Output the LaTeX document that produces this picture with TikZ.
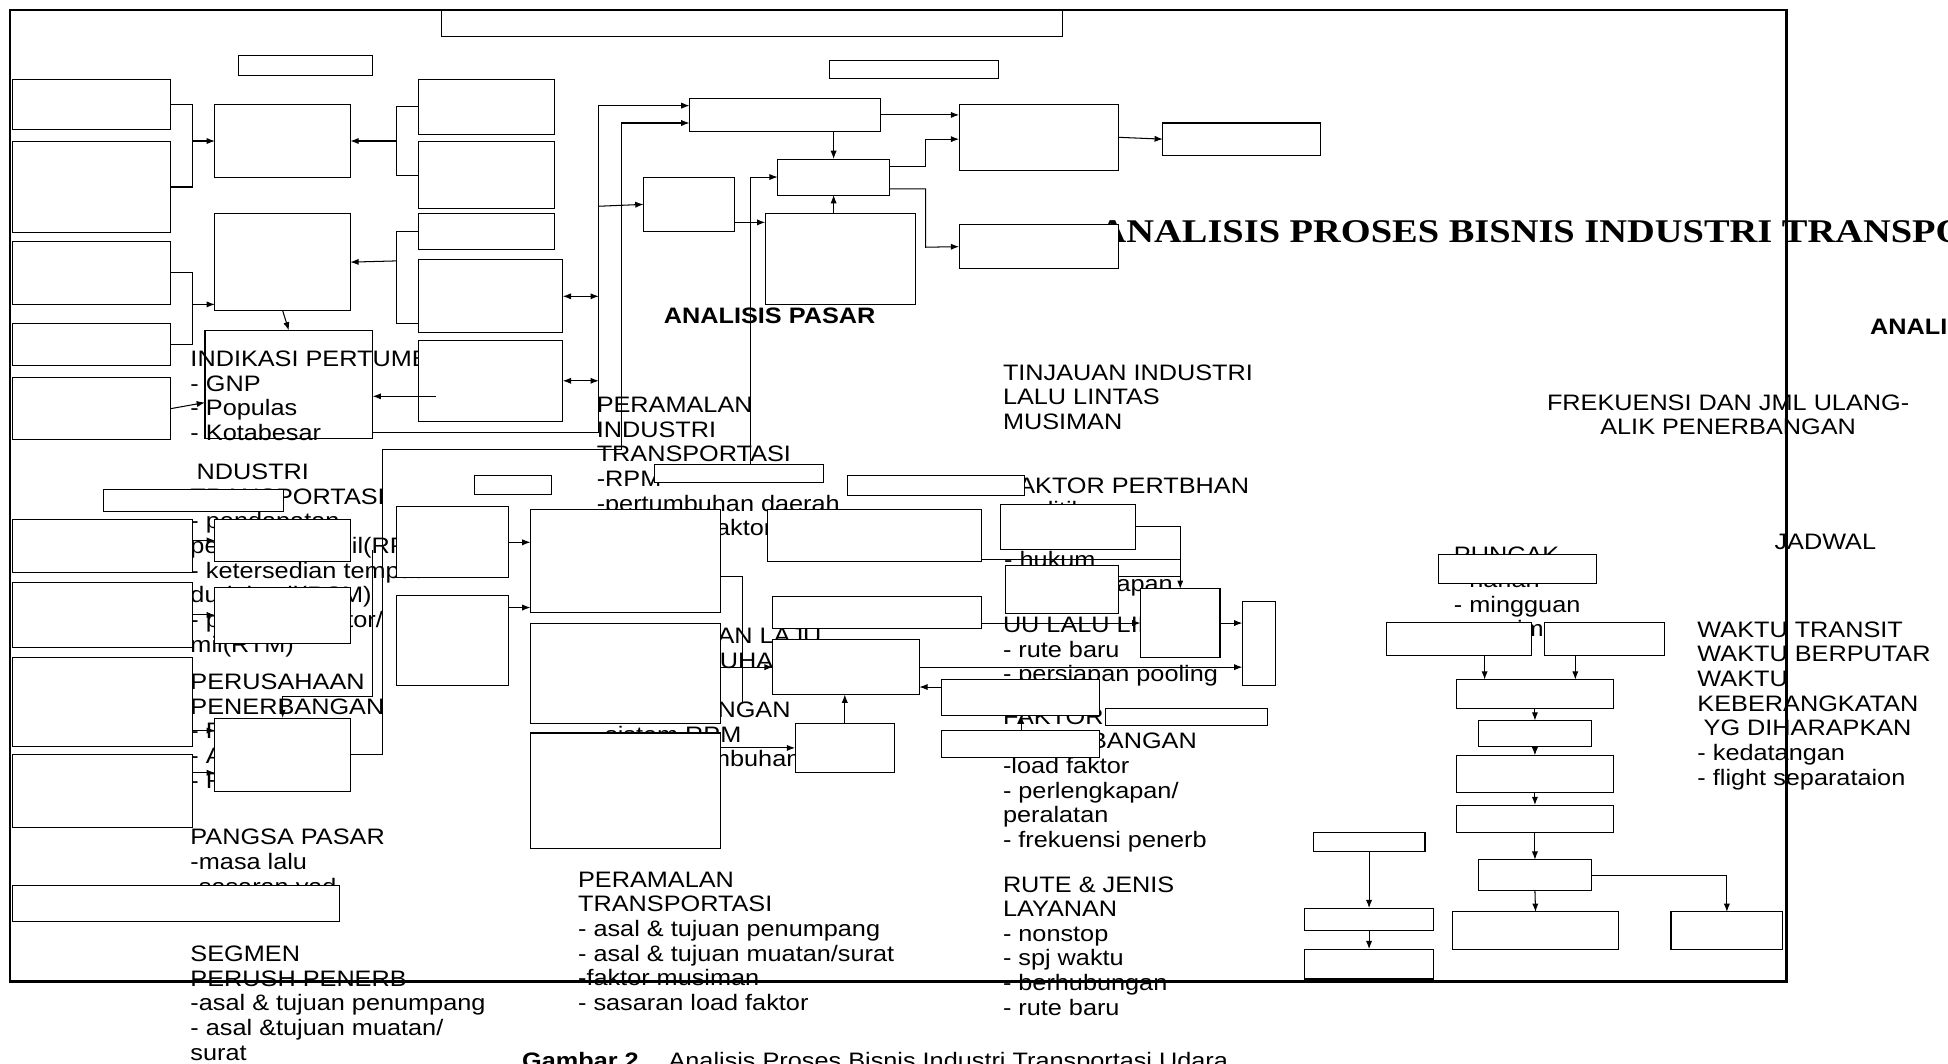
\documentclass[tikz,border=0pt]{standalone}
\usepackage{fontspec}
\setmainfont[FakeStretch=1.13]{Liberation Sans}
\newfontfamily\titlefont[FakeStretch=1.16]{Liberation Serif}
\usepackage{tikz}
\usetikzlibrary{
    arrows.meta,
    calc
}
\tikzset{
    box/.style={draw, line width=0.5pt, fill=white, inner sep=0pt, outer sep=0pt, anchor=north west},
    lbl/.style={anchor=base west, inner sep=0pt, align=left, font=\fontsize{10.8}{11.9}\selectfont},
    con/.style={line width=0.5pt},
    arr/.style={con, -{Latex[length=4pt,width=3pt]}},
    darr/.style={con, {Latex[length=4pt,width=3pt]}-{Latex[length=4pt,width=3pt]}}
}
% box from its top left to its bottom right corner
\newcommand{\bx}[5]{\node[box, minimum width={(#4-#2)*0.6pt}, minimum height={(#5-#3)*0.6pt}] (#1) at (#2,#3) {};}

\begin{document}
\begin{tikzpicture}[x=0.6pt, y=-0.6pt]
        \useasboundingbox (0,0) rectangle (1568,856);
        \clip (0,0) rectangle (1568,856);

        \node[box, fill=none, minimum width={135*0.6pt}, minimum height={87*0.6pt}] (ind) at (165,266) {};

        % texts (placed at the baseline of their last line)
        \node[lbl] (tind) at (153,354.5) {INDIKASI PERTUMBUHAN\\- GNP\\- Populas\\- Kotabesar};
        \node[lbl] (tindu) at (153,524.8) {\hspace*{3pt}NDUSTRI\\TRANSPORTASI\\- pendapatan\\penumpang mil(RPM)\\- ketersedian tempat\\duduk mil(RSM)\\- pendapatan tor/\\mil(RTM)};
        \node[lbl] (tpers) at (153,634.3) {PERUSAHAAN\\PENERBANGAN\\- Rute\\- Armada\\- Frekuensi};
        \node[lbl] (tpangsa) at (153,719.7) {PANGSA PASAR\\-masa lalu\\-sasaran yad};
        \node[lbl] (tsegmen) at (153,853.3) {SEGMEN\\PERUSH PENERB\\-asal \& tujuan penumpang\\- asal \&tujuan muatan/\\surat};
        \node[lbl] (tramind) at (480,431.2) {PERAMALAN\\INDUSTRI\\TRANSPORTASI\\-RPM\\-pertumbuhan daerah\\- sasaran faktor};
        \node[lbl] (tlaju) at (480,617.2) {PERAMALAN LAJU\\PERTUMBUHAN\\\mbox{}\\PENERBANGAN\\-sistem RPM\\-laju pertumbuhan};
        \node[lbl] (tramtr) at (465,813.2) {PERAMALAN\\TRANSPORTASI\\- asal \& tujuan penumpang\\- asal \& tujuan muatan/surat\\-faktor musiman\\- sasaran load faktor};
        \node[lbl] (ttinj) at (807,345.7) {TINJAUAN INDUSTRI\\LALU LINTAS\\MUSIMAN};
        \node[lbl] (tpert) at (808,476.3) {FAKTOR PERTBHAN\\- politik\\- ekonomi\\- hukum\\- perlengkapan};
        \node[lbl] (tuu) at (807,548.7) {UU LALU LINTAS\\- rute baru\\- persiapan pooling};
        \node[lbl] (tfpen) at (807,682.2) {FAKTOR\\PENERBANGAN\\-load faktor\\- perlengkapan/\\peralatan\\- frekuensi penerb};
        \node[lbl] (trute) at (807,817.2) {RUTE \& JENIS\\LAYANAN\\- nonstop\\- spj waktu\\- berhubungan\\- rute baru};
        \node[lbl] (tpuncak) at (1170,512.5) {PUNCAK\\- harian\\- mingguan\\- musiman};
        \node[lbl] (twaktu) at (1366,632) {WAKTU TRANSIT\\WAKTU BERPUTAR\\WAKTU\\KEBERANGKATAN\\\hspace*{3pt}YG DIHARAPKAN\\- kedatangan\\- flight separataion};
        \node[lbl, anchor=base, align=center] (tfrek) at (1391,350) {FREKUENSI DAN JML ULANG-\\ALIK PENERBANGAN};
        \node[lbl] (tjadwal) at (1428,442) {JADWAL};
        \node[lbl, font=\fontsize{10.8}{11.9}\selectfont\bfseries] (tpasar) at (534,260) {ANALISIS PASAR};
        \node[lbl, font=\fontsize{10.8}{11.9}\selectfont\bfseries] (tanali) at (1505,269) {ANALISIS};
        \node[lbl, font=\titlefont\bfseries\fontsize{16}{18}\selectfont] (ttitle) at (884,195) {ANALISIS PROSES BISNIS INDUSTRI TRANSPORTASI UDARA};
        \node[lbl] (tcaption) at (420,860) {\textbf{Gambar 2.}\hspace{11pt}Analisis Proses Bisnis Industri Transportasi Udara};

        % boxes
        \bx{titlebox}{355}{8}{855}{29}
        \bx{hdra}{192}{45}{300}{61}
        \bx{hdrb}{668}{49}{804}{63}
        \bx{l1}{10}{64}{137}{104}
        \bx{l2}{10}{114}{137}{187}
        \bx{l3}{10}{194}{137}{245}
        \bx{l4}{10}{260}{137}{294}
        \bx{l5}{10}{304}{137}{354}
        \bx{b1}{173}{84}{282}{143}
        \bx{b2}{173}{172}{282}{250}
        \bx{r1}{337}{64}{446}{108}
        \bx{r2}{337}{114}{446}{168}
        \bx{r3}{337}{172}{446}{201}
        \bx{r4}{337}{209}{453}{268}
        \bx{r5}{337}{274}{453}{339}
        \bx{c1}{555}{79}{709}{106}
        \bx{c2}{626}{128}{716}{157}
        \bx{c3}{518}{143}{591}{186}
        \bx{c4}{616}{172}{737}{245}
        \bx{c5}{772}{84}{900}{137}
        \bx{c6}{936}{99}{1063}{125}
        \bx{c7}{772}{181}{900}{216}
        \bx{sind}{83}{394}{228}{412}
        \bx{ll1}{10}{418}{155}{461}
        \bx{ll2}{10}{469}{155}{521}
        \bx{ll3}{10}{529}{155}{601}
        \bx{ll4}{10}{607}{155}{666}
        \bx{ma}{173}{418}{282}{452}
        \bx{mb}{173}{473}{282}{518}
        \bx{pb}{173}{578}{282}{637}
        \bx{bb}{10}{713}{273}{742}
        \bx{s2}{382}{383}{444}{398}
        \bx{m1}{319}{408}{409}{465}
        \bx{m2}{319}{479}{409}{552}
        \bx{s3}{527}{374}{663}{388}
        \bx{s4}{682}{383}{825}{399}
        \bx{biga}{427}{410}{580}{493}
        \bx{bigb}{427}{502}{580}{582}
        \bx{bigc}{427}{590}{580}{683}
        \bx{s6}{618}{410}{790}{452}
        \bx{s7}{622}{480}{790}{506}
        \bx{s8}{622}{515}{740}{559}
        \bx{s9}{640}{582}{720}{622}
        \bx{s10}{758}{547}{885}{576}
        \bx{s11}{758}{588}{885}{610}
        \bx{s12}{890}{570}{1020}{584}
        \bx{s13}{805}{406}{914}{442}
        \bx{s14}{809}{455}{900}{494}
        \bx{tc}{918}{474}{982}{529}
        \bx{tb}{1000}{484}{1027}{552}
        \bx{s15}{1158}{446}{1285}{470}
        \bx{s16}{1116}{501}{1233}{528}
        \bx{s17}{1243}{501}{1340}{528}
        \bx{f1}{1172}{547}{1299}{570}
        \bx{f2}{1190}{580}{1281}{601}
        \bx{f3}{1172}{608}{1299}{638}
        \bx{f4}{1172}{648}{1299}{670}
        \bx{f5}{1190}{692}{1281}{717}
        \bx{f6}{1169}{734}{1303}{764}
        \bx{f7}{1345}{734}{1435}{764}
        \bx{g1}{1057}{670}{1147}{685}
        \bx{g2}{1050}{731}{1154}{749}
        \bx{g3}{1050}{764}{1154}{788}

        % connectors, upper left
        \draw[con] (l1.east) -- ++(18,0) |- (l2.east);
        \draw[arr] (b1.west) ++(-18,0) -- (b1.west);
        \draw[con] (l3.east) -- ++(18,0) |- (l4.east);
        \draw[arr] (155,245) -- (b2.west |- 0,245);
        \draw[arr] (l5.east) -- (ind.west |- 0,324);
        \draw[con] (r1.west) -- ++(-18,0) |- (r2.west);
        \draw[arr] (b1.east) ++(37,0) -- (b1.east);
        \draw[con] (r3.west) -- ++(-18,0) |- (r4.west |- 0,260);
        \draw[arr] (319,210) -- (b2.east);
        \draw[arr] (b2.south) -- (ind.north);
        \coordinate (r5in) at (351,319);
        \draw[arr] (r5in) -- (ind.east |- r5in);
        \draw[darr] (r4.east) -- (r4.east -| 482,0);
        \draw[darr] (r5.east) -- (r5.east -| 482,0);
        \draw[arr] (ind.east |- 0,348) -| (482,85) -- (c1.west |- 0,85);
        \draw[arr] (482,166) -- (c3.west);
        \draw[arr] (pb.east) -| (308,362) -| (500,99) -- (c1.west |- 0,99);
        \draw[arr] (s3.north -| 604,0) |- (c2.west);

        % connectors, upper middle
        \draw[arr] (c1.south -| c2.north) -- (c2.north);
        \draw[arr] (c4.north -| c2.south) -- (c2.south);
        \draw[arr] (c1.east) -- (c5.west |- c1.east);
        \draw[arr] (c2.east |- 0,134) -| (745,112) -- (c5.west |- 0,112);
        \draw[arr] (c2.east |- 0,152) -| (745,199) -- (c7.west);
        \draw[arr] (c5.east) -- (c6.west);
        \draw[arr] (c3.east |- 0,179) -- (c4.west |- 0,179);

        % connectors, lower left and middle
        \draw[arr] (ll1.east |- ma.west) -- (ma.west);
        \draw[arr] (ll2.east) -- (mb.west |- ll2.east);
        \draw[arr] (ll3.east |- 0,588) -- (pb.west |- 0,588);
        \draw[arr] (ll4.east |- 0,622) -- (pb.west |- 0,622);
        \coordinate (kink) at (300,443);
        \draw[arr] (kink) |- (pb.north |- 0,561) -- (pb.north);
        \draw[arr] (m1.east) -- (biga.west |- m1.east);
        \draw[arr] (m2.east |- 0,489) -- (biga.west |- 0,489);
        \draw[con] (biga.east |- 0,464) -| (598,566);
        \draw[arr] (bigb.east |- s8.west) -- (s8.west);
        \draw[arr] (bigc.east |- s9.west) -- (s9.west);
        \draw[arr] (s9.north) -- (s9.north |- s8.south);
        \draw[arr] (s10.west |- 0,553) -- (s8.east |- 0,553);
        \draw[arr] (s8.east) -- (tb.west |- s8.east);
        \draw[arr] (s11.north -| 822,0) -- (s10.south -| 822,0);
        \draw[arr] (s13.east) -| (tc.north);
        \draw[con] (s6.east |- 0,450) -- (tc.north |- 0,450);
        \draw[con] (s14.east |- 0,464) -- (tc.north |- 0,464);
        \draw[arr] (s7.east |- tc.west) -- (tc.west);
        \draw[arr] (tc.east) -- (tb.west |- tc.east);

        % connectors, right
        \draw[arr] (s16.south -| 1195,0) -- (f1.north -| 1195,0);
        \draw[arr] (s17.south -| 1268,0) -- (f1.north -| 1268,0);
        \draw[arr] (f1.south) -- (f2.north);
        \draw[arr] (f2.south) -- (f3.north);
        \draw[arr] (f3.south) -- (f4.north);
        \draw[arr] (f4.south) -- (f5.north);
        \draw[arr] (f5.south) -- (f6.north);
        \draw[arr] (f5.east) -| (f7.north);
        \draw[arr] (g1.south) -- (g2.north);
        \draw[arr] (g2.south) -- (g3.north);

        % frame
        \draw[line width=1pt] (8,8) rectangle (1438,790);
    \end{tikzpicture}
\end{document}
